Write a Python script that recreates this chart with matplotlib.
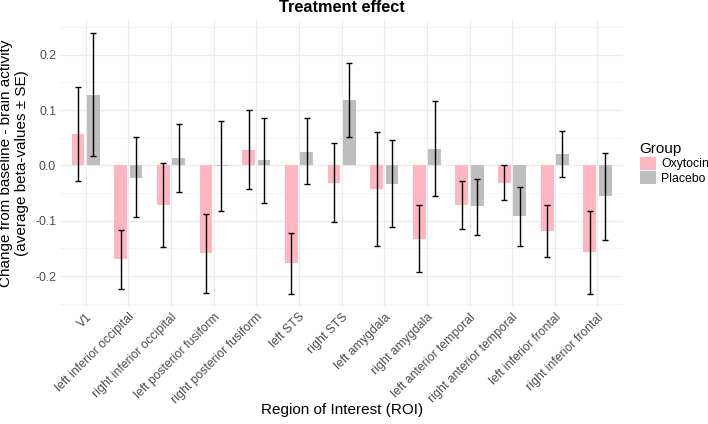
import numpy as np
import matplotlib
matplotlib.use("agg")
import matplotlib.pyplot as plt
from matplotlib.patches import Patch
from matplotlib.ticker import MultipleLocator

plt.rcParams["font.family"] = ["Liberation Sans", "DejaVu Sans"]

regions = ["V1", "left inferior occipital", "right inferior occipital",
           "left posterior fusiform", "right posterior fusiform", "left STS",
           "right STS", "left amygdala", "right amygdala",
           "left anterior temporal", "right anterior temporal",
           "left inferior frontal", "right inferior frontal"]

oxy_mean = [0.056, -0.169, -0.072, -0.159, 0.028, -0.177, -0.031,
            -0.043, -0.133, -0.071, -0.031, -0.118, -0.157]
oxy_lo = [-0.029, -0.223, -0.148, -0.230, -0.042, -0.232, -0.102,
          -0.146, -0.193, -0.115, -0.063, -0.165, -0.232]
oxy_hi = [0.141, -0.116, 0.004, -0.088, 0.100, -0.123, 0.040,
          0.060, -0.072, -0.028, 0.000, -0.072, -0.083]

pla_mean = [0.128, -0.022, 0.013, -0.001, 0.009, 0.025, 0.119,
            -0.033, 0.030, -0.074, -0.092, 0.020, -0.056]
pla_lo = [0.017, -0.094, -0.048, -0.082, -0.068, -0.034, 0.051,
          -0.112, -0.055, -0.126, -0.145, -0.021, -0.134]
pla_hi = [0.239, 0.051, 0.075, 0.080, 0.086, 0.086, 0.186,
          0.046, 0.116, -0.024, -0.039, 0.062, 0.022]

groups = ["Oxytocin", "Placebo"]
colors = ["#FFB6C1", "#BEBEBE"]

fig = plt.figure(figsize=(7.08, 4.24), dpi=100)
ax = fig.add_axes([0.085, 0.276, 0.795, 0.677])

x = np.arange(len(regions))
offset = 0.18
width = 0.3
for i, (m, lo, hi) in enumerate([(oxy_mean, oxy_lo, oxy_hi), (pla_mean, pla_lo, pla_hi)]):
    xs = x + (i * 2 - 1) * offset
    m = np.array(m)
    ax.bar(xs, m, width=width, color=colors[i], zorder=2)
    err = np.vstack([m - np.array(lo), np.array(hi) - m])
    ax.errorbar(xs, m, yerr=err, fmt="none", ecolor="black", elinewidth=1.0,
                capsize=2.2, capthick=1.0, zorder=3)

ax.set_xlim(-0.6, len(regions) - 0.4)
ax.set_ylim(-0.256, 0.263)
ax.yaxis.set_major_locator(MultipleLocator(0.1))
ax.yaxis.set_minor_locator(MultipleLocator(0.05))
ax.set_yticks([-0.2, -0.1, 0.0, 0.1, 0.2])
ax.set_yticklabels(["-0.2", "-0.1", "0.0", "0.1", "0.2"])
ax.set_xticks(x)
ax.set_xticklabels(regions, rotation=45, ha="right", rotation_mode="anchor")

ax.grid(True, which="major", color="#EBEBEB", linewidth=0.9, zorder=0)
ax.grid(True, which="minor", axis="y", color="#F3F3F3", linewidth=0.6, zorder=0)
ax.set_axisbelow(True)
for s in ax.spines.values():
    s.set_visible(False)
ax.tick_params(axis="both", which="both", length=0, labelsize=8.8,
               labelcolor="#4D4D4D", pad=3)

ax.set_title("Treatment effect", fontsize=11.7, fontweight="bold", pad=6)
ax.set_xlabel("Region of Interest (ROI)", fontsize=11)
ax.xaxis.set_label_coords(0.5, -0.335)
ax.set_ylabel("Change from baseline - brain activity\n(average beta-values \u00b1 SE)",
              fontsize=11, labelpad=4)

handles = [Patch(facecolor=c, edgecolor="none") for c in colors]
leg = ax.legend(handles, groups, title="Group", loc="center left",
                bbox_to_anchor=(1.01, 0.5), frameon=False, fontsize=8.8,
                title_fontsize=11, handlelength=1.3, handleheight=1.3,
                handletextpad=0.45, labelspacing=0.05)
leg._legend_box.align = "left"

fig.savefig("out.png", dpi=100)
